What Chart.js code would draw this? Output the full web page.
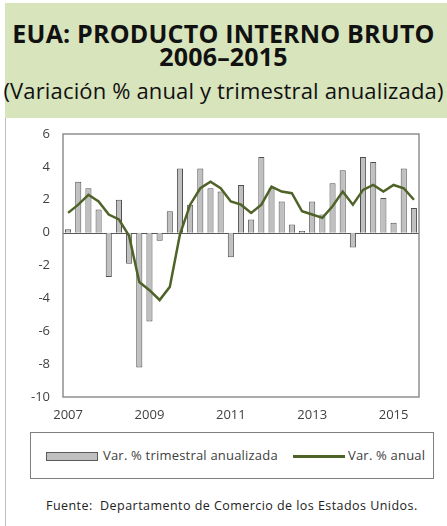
<!DOCTYPE html>
<html>
<head>
<meta charset="utf-8">
<script src="https://cdn.jsdelivr.net/npm/chart.js@4"></script>
<style>
  body { margin: 0; background: #fff; width: 447px; height: 526px; overflow: hidden; font-family: "Open Sans", sans-serif; }
  #head { position: absolute; left: 5px; top: 3px; width: 442px; height: 115px; background: #d8e4bc; }
  .t { position: absolute; left: 0; width: 447px; text-align: center; white-space: nowrap; color: #111; line-height: 28px; }
  #t1 { top: 19px; font-size: 25px; font-weight: bold; letter-spacing: 0.2px; }
  #t2 { top: 42px; font-size: 25px; font-weight: bold; letter-spacing: 0.2px; }
  #t3 { top: 76px; font-size: 22px; letter-spacing: 0.15px; }
  #edge { position: absolute; left: 5px; top: 118px; width: 1px; height: 408px; background: #bfbfbf; }
  #wrap { position: absolute; left: 0; top: 120px; width: 447px; height: 300px; }
  #legend { position: absolute; left: 30px; top: 432px; width: 404px; height: 47px; border: 1px solid #7f7f7f; box-sizing: border-box; font-size: 13px; letter-spacing: 0.2px; color: #404040; }
  .sw { position: absolute; }
  .lt { position: absolute; top: 14px; line-height: 16px; white-space: nowrap; }
  #src { position: absolute; left: 46px; top: 498px; line-height: 16px; font-size: 12.5px; letter-spacing: 0.45px; color: #222; white-space: nowrap; }
</style>
</head>
<body>
<div id="head"></div>
<div class="t" id="t1">EUA: PRODUCTO INTERNO BRUTO</div>
<div class="t" id="t2">2006–2015</div>
<div class="t" id="t3">(Variación % anual y trimestral anualizada)</div>
<div id="edge"></div>
<div id="wrap"><canvas id="chart"></canvas></div>
<div id="legend">
  <div class="sw" style="left:15px;top:19px;width:50px;height:7px;background:#c0c0c0;border:1px solid #595959;"></div>
  <div class="lt" style="left:72px;">Var. % trimestral anualizada</div>
  <div class="sw" style="left:262px;top:22px;width:52px;height:2.5px;background:#4f6228;"></div>
  <div class="lt" style="left:317px;">Var. % anual</div>
</div>
<div id="src">Fuente:&nbsp; Departamento de Comercio de los Estados Unidos.</div>
<script>
const quarters = [
  "2007T1","2007T2","2007T3","2007T4","2008T1","2008T2","2008T3","2008T4",
  "2009T1","2009T2","2009T3","2009T4","2010T1","2010T2","2010T3","2010T4",
  "2011T1","2011T2","2011T3","2011T4","2012T1","2012T2","2012T3","2012T4",
  "2013T1","2013T2","2013T3","2013T4","2014T1","2014T2","2014T3","2014T4",
  "2015T1","2015T2","2015T3"
];
const trimestral = [
  0.2, 3.1, 2.7, 1.4, -2.7, 2.0, -1.9, -8.2,
  -5.4, -0.5, 1.3, 3.9, 1.7, 3.9, 2.7, 2.5,
  -1.5, 2.9, 0.8, 4.6, 2.7, 1.9, 0.5, 0.1,
  1.9, 1.1, 3.0, 3.8, -0.9, 4.6, 4.3, 2.1,
  0.6, 3.9, 1.5
];
const anual = [
  1.2, 1.7, 2.3, 1.9, 1.1, 0.8, -0.2, -3.0,
  -3.5, -4.1, -3.3, -0.1, 1.7, 2.7, 3.1, 2.7,
  1.9, 1.7, 1.2, 1.7, 2.8, 2.5, 2.4, 1.3,
  1.1, 0.9, 1.6, 2.5, 1.7, 2.6, 2.9, 2.5,
  2.9, 2.7, 2.0
];
const yTicks = [6, 4, 2, 0, -2, -4, -6, -8, -10];
const yearTicks = ["2007", "2009", "2011", "2013", "2015"];

// frame round the plot and the zero line
const framePlugin = {
  id: "frame",
  beforeDatasetsDraw(chart) {
    const { ctx, chartArea: a, scales } = chart;
    const y0 = Math.round(scales.y.getPixelForValue(0)) + 0.5;
    ctx.save();
    ctx.strokeStyle = "#595959";
    ctx.lineWidth = 1;
    ctx.beginPath();
    ctx.moveTo(a.left, y0);
    ctx.lineTo(a.right, y0);
    ctx.stroke();
    ctx.restore();
  },
  afterDraw(chart) {
    const { ctx, chartArea: a } = chart;
    ctx.save();
    ctx.strokeStyle = "#7f7f7f";
    ctx.lineWidth = 1.3;
    ctx.strokeRect(a.left, a.top, a.right - a.left, a.bottom - a.top);
    ctx.restore();
  }
};

new Chart(document.getElementById("chart").getContext("2d"), {
  data: {
    labels: quarters,
    datasets: [
      {
        type: "line",
        label: "Var. % anual",
        data: anual,
        borderColor: "#4f6228",
        borderWidth: 2.5,
        pointRadius: 0,
        tension: 0,
        order: 0
      },
      {
        type: "bar",
        label: "Var. % trimestral anualizada",
        data: trimestral,
        backgroundColor: "#c0c0c0",
        borderColor: "#505050",
        borderWidth: 1,
        barPercentage: 0.6,
        categoryPercentage: 1,
        order: 1
      }
    ]
  },
  options: {
    responsive: true,
    maintainAspectRatio: false,
    animation: false,
    layout: { padding: { left: 0, right: 28, top: 14, bottom: 0 } },
    plugins: { legend: { display: false }, tooltip: { enabled: false } },
    scales: {
      x: {
        offset: true,
        grid: { display: false, drawTicks: false },
        border: { display: false },
        ticks: {
          autoSkip: false,
          maxRotation: 0,
          padding: 10,
          color: "#404040",
          font: { family: "'Open Sans', sans-serif", size: 13 },
          callback: function(v, i) {
            const yr = quarters[i].slice(0, 4);
            return (quarters[i].endsWith("T1") && yearTicks.includes(yr)) ? yr : "";
          }
        },
        afterFit: function(s) { s.height = 23; }
      },
      y: {
        min: -10,
        max: 6,
        grid: { display: false, drawTicks: true, tickLength: 13 },
        border: { display: false },
        afterBuildTicks: function(s) { s.ticks = yTicks.map(v => ({ value: v })); },
        ticks: {
          padding: 0,
          color: "#404040",
          font: { family: "'Open Sans', sans-serif", size: 13 }
        },
        afterFit: function(s) { s.width = 63; }
      }
    }
  },
  plugins: [framePlugin]
});
</script>
</body>
</html>
